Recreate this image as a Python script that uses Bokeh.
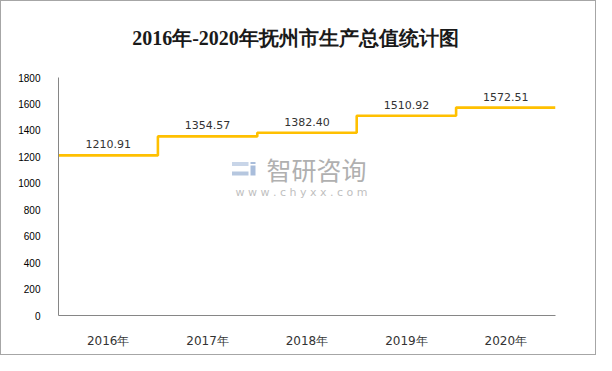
from bokeh.plotting import figure
from bokeh.models import Range1d, FixedTicker, Label, BoxAnnotation, ColumnDataSource
from bokeh.core.properties import value
from bokeh.embed import file_html
from bokeh.resources import INLINE

# ---- data ----
years = ["2016年", "2017年", "2018年", "2019年", "2020年"]
gdp = [1210.91, 1354.57, 1382.40, 1510.92, 1572.51]
gdp_labels = ["1210.91", "1354.57", "1382.40", "1510.92", "1572.51"]
y_ticks = [0, 200, 400, 600, 800, 1000, 1200, 1400, 1600, 1800]
title_text = "2016年-2020年抚州市生产总值统计图"

# ---- layout constants ----
W, H = 596, 355
BL, BR, BB = 57, 42, 41          # borders (left, right, bottom)
AXIS_TOP_PX = 76                  # pixel row (from figure top) where the axis max sits
y_max = y_ticks[-1]
frame_h = H - BB
y_end = y_max * frame_h / (frame_h - AXIS_TOP_PX)   # frame reaches figure top; title lives inside

n = len(years)
p = figure(width=W, height=H, output_backend="svg", toolbar_location=None,
           x_range=Range1d(0, n), y_range=Range1d(0, y_end), title=None,
           min_border_left=BL, min_border_right=BR, min_border_top=0, min_border_bottom=BB)
p.styles = {"border": "1px solid #a6a6a6"}
p.outline_line_color = None
p.xgrid.visible = False
p.ygrid.visible = False
p.background_fill_color = "white"
p.border_fill_color = "white"

# axes
p.yaxis.ticker = FixedTicker(ticks=y_ticks)
p.yaxis.bounds = (0, y_max)
p.yaxis.axis_line_color = "#868686"
p.yaxis.major_tick_line_color = None
p.yaxis.minor_tick_line_color = None
p.yaxis.major_label_standoff = 12
p.yaxis.major_label_text_font = "Liberation Sans"
p.yaxis.major_label_text_font_size = "10px"
p.yaxis.major_label_text_color = "#000000"

centers = [i + 0.5 for i in range(n)]
p.xaxis.ticker = FixedTicker(ticks=centers)
p.xaxis.major_label_overrides = {c: y for c, y in zip(centers, years)}
p.xaxis.axis_line_color = "#868686"
p.xaxis.major_tick_line_color = None
p.xaxis.minor_tick_line_color = None
p.xaxis.major_label_standoff = 12
p.xaxis.major_label_text_font = "DejaVu Sans"
p.xaxis.major_label_text_font_size = "12px"
p.xaxis.major_label_text_color = "#333333"

# title (frame-relative screen units, inside the frame)
p.add_layout(Label(x=237, y=frame_h - 36, x_units="screen", y_units="screen", text=title_text,
                   text_font="Liberation Serif", text_font_size="20px", text_font_style="bold",
                   text_color="#1a1a1a", text_align="center", text_baseline="middle"))

# watermark (frame-relative screen units)
def wm_box(l, r, b, t, color):
    p.add_layout(BoxAnnotation(left=l, right=r, bottom=b, top=t,
                               left_units="screen", right_units="screen",
                               top_units="screen", bottom_units="screen",
                               fill_color=color, fill_alpha=1, line_color=None,
                               level="underlay"))

wm_box(173.5, 190, 149.5, 153.6, "#c8d5e8")
wm_box(173.5, 190, 140, 144, "#b6c7df")
wm_box(192, 197, 140, 150, "#a9bddb")
wm_box(192, 197, 151.5, 153.6, "#a9bddb")
p.add_layout(Label(x=258, y=147, x_units="screen", y_units="screen", text="智研咨询",
                   text_font="Noto Sans CJK SC", text_font_size="25px", text_color="#b0b0b0",
                   text_align="center", text_baseline="middle", level="underlay"))
p.add_layout(Label(x=243, y=123.3, x_units="screen", y_units="screen",
                   text="w w w . c h y x x . c o m",
                   text_font="DejaVu Sans", text_font_size="11px", text_color="#c0c0c0",
                   text_align="center", text_baseline="middle", level="underlay"))

# step line
xs = list(range(n + 1))
ys = gdp + [gdp[-1]]
p.step(x=xs, y=ys, mode="after", line_color="#FFC000", line_width=2.6)

# value labels
src = ColumnDataSource(dict(x=centers, y=gdp, t=gdp_labels))
p.text(x="x", y="y", text="t", source=src, y_offset=-11, text_align="center",
       text_baseline="middle", text_font=value("DejaVu Sans"), text_font_size="11px",
       text_color="#333333")

open("out.html", "w").write(file_html(p, INLINE))
